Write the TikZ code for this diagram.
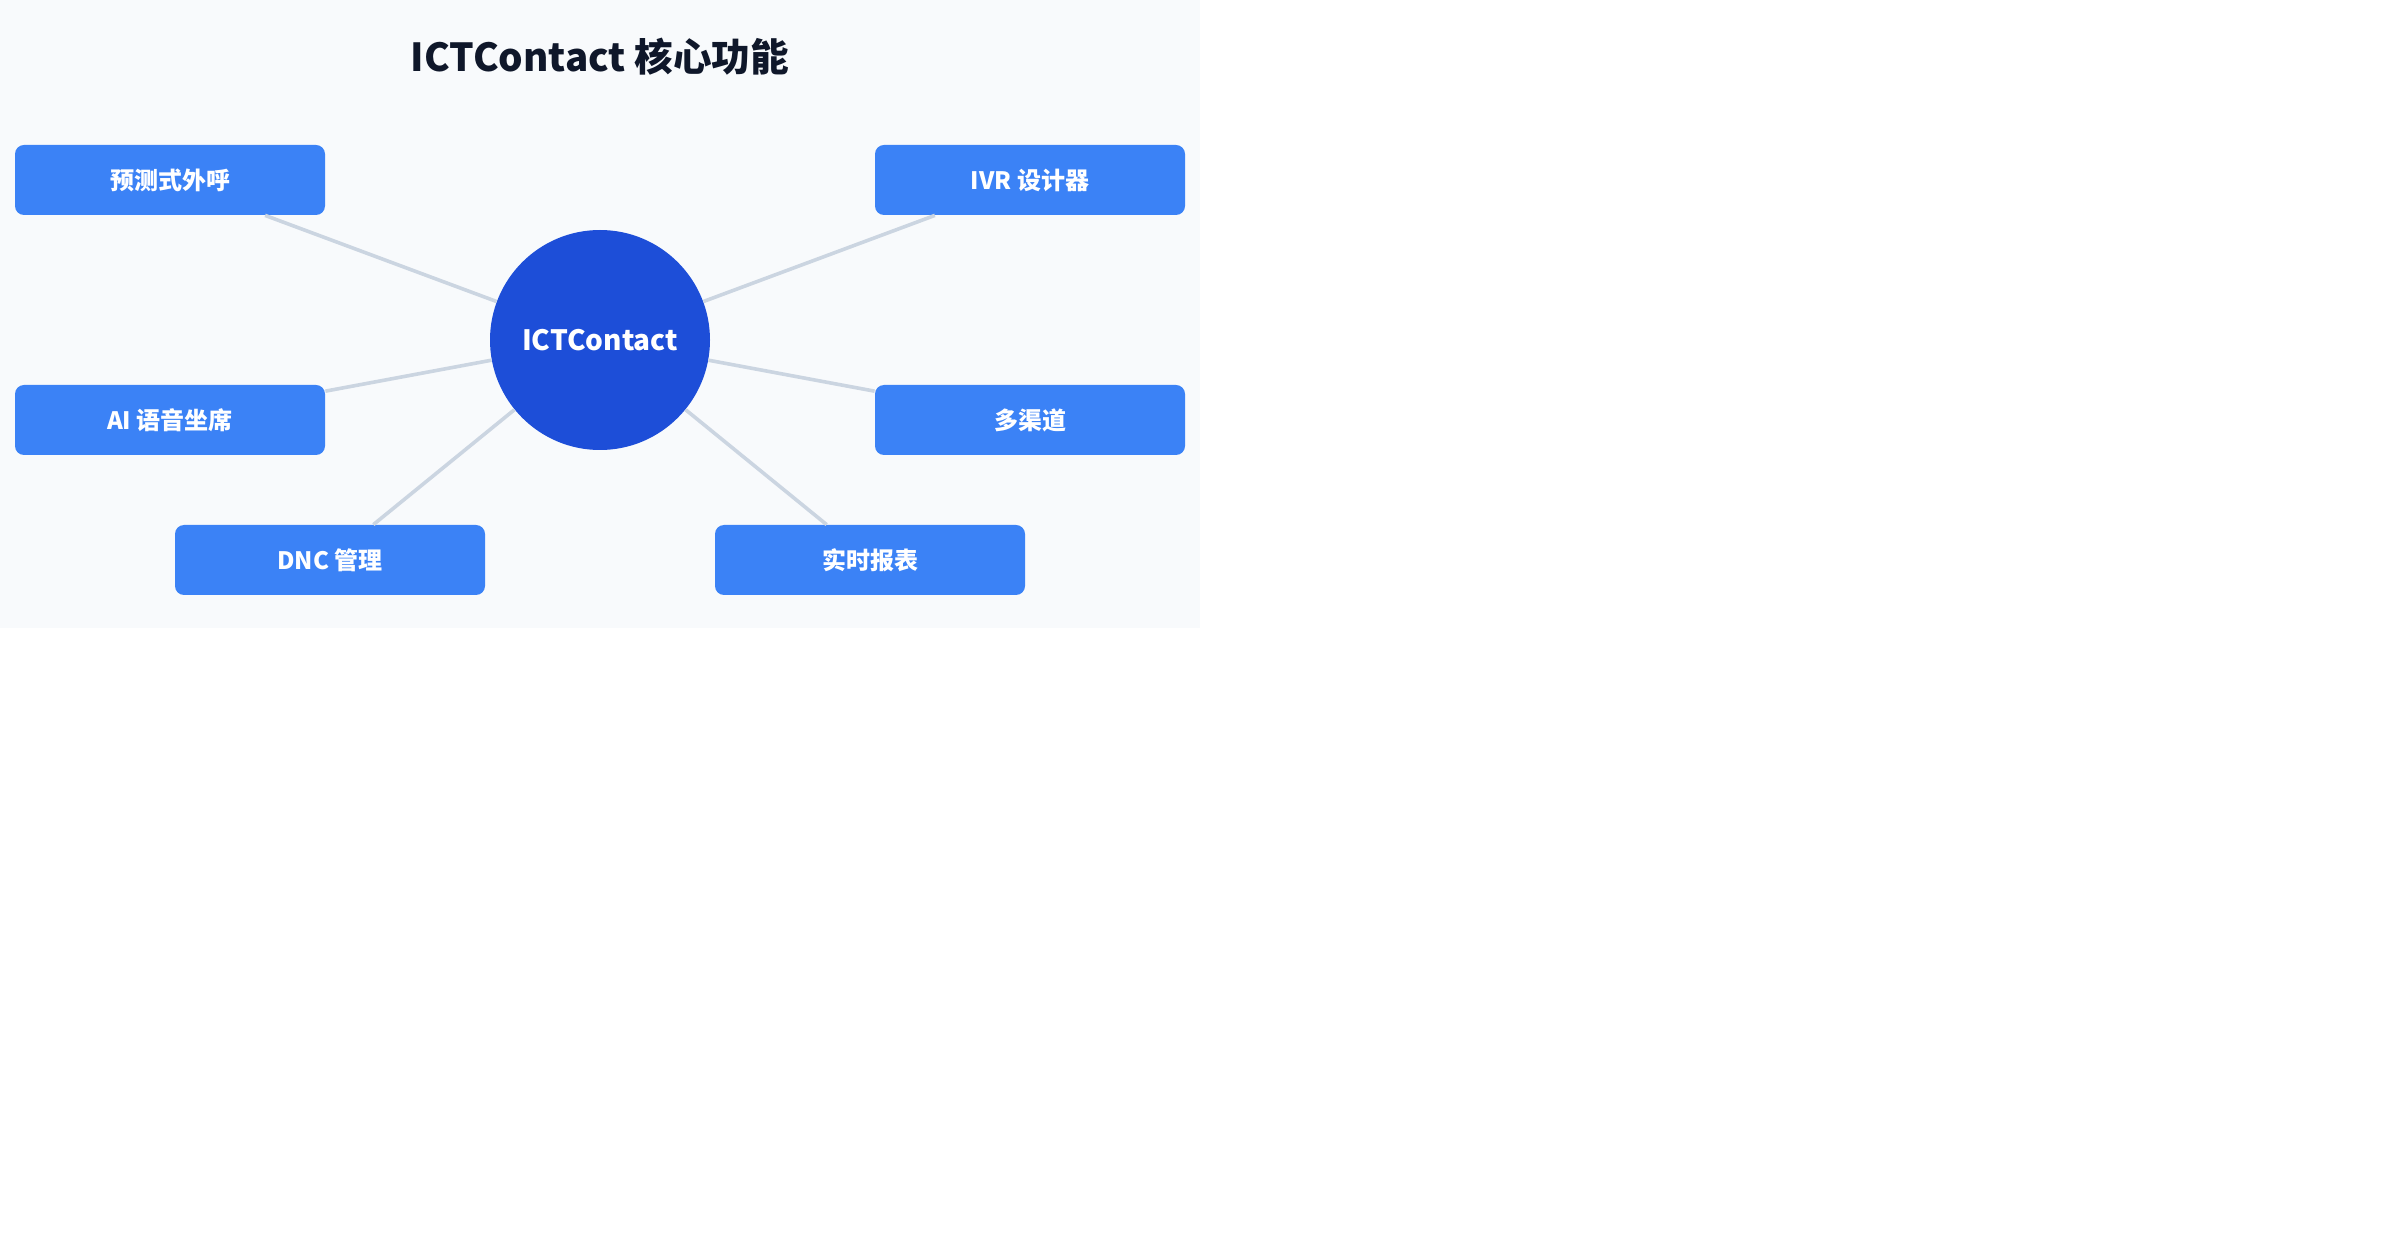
\documentclass[tikz,border=0pt]{standalone}
\usepackage{fontspec}
\setmainfont{Noto Sans CJK SC}
\definecolor{bgc}{HTML}{F8FAFC}
\definecolor{boxc}{HTML}{3B82F6}
\definecolor{hubc}{HTML}{1D4ED8}
\definecolor{titlec}{HTML}{0F172A}
\definecolor{linec}{HTML}{CBD5E1}
\begin{document}
\begin{tikzpicture}[x=0.5pt,y=-0.5pt,
  feat/.style={rectangle, rounded corners=4.5pt, fill=boxc, minimum width=155pt, minimum height=35pt, inner sep=0pt, text=white, font=\bfseries\fontsize{12}{14}\selectfont},
  hub/.style={circle, fill=hubc, minimum size=110pt, inner sep=0pt, text=white, font=\bfseries\fontsize{14}{17}\selectfont},
  link/.style={draw=linec, line width=1.8pt}]
\useasboundingbox (0,0) rectangle (2400,1256);
\fill[bgc] (0,0) rectangle (1200,628);
\node[font=\bfseries\fontsize{19.3}{23}\selectfont, text=titlec] (title) at (600,57) {ICTContact 核心功能};
\node[hub] (c) at (600,340) {\raisebox{-1pt}{ICTContact}};
\node[feat] (a) at (170,180) {\raisebox{-1pt}{预测式外呼}};
\node[feat] (b) at (1030,180) {\raisebox{-1pt}{IVR 设计器}};
\node[feat] (d) at (170,420) {\raisebox{-1pt}{AI 语音坐席}};
\node[feat] (e) at (1030,420) {\raisebox{-1pt}{多渠道}};
\node[feat] (f) at (330,560) {\raisebox{-1pt}{DNC 管理}};
\node[feat] (g) at (870,560) {\raisebox{-1pt}{实时报表}};
\foreach \n in {a,b,d,e,f,g} {\draw[link] (c) -- (\n);}
\end{tikzpicture}
\end{document}
